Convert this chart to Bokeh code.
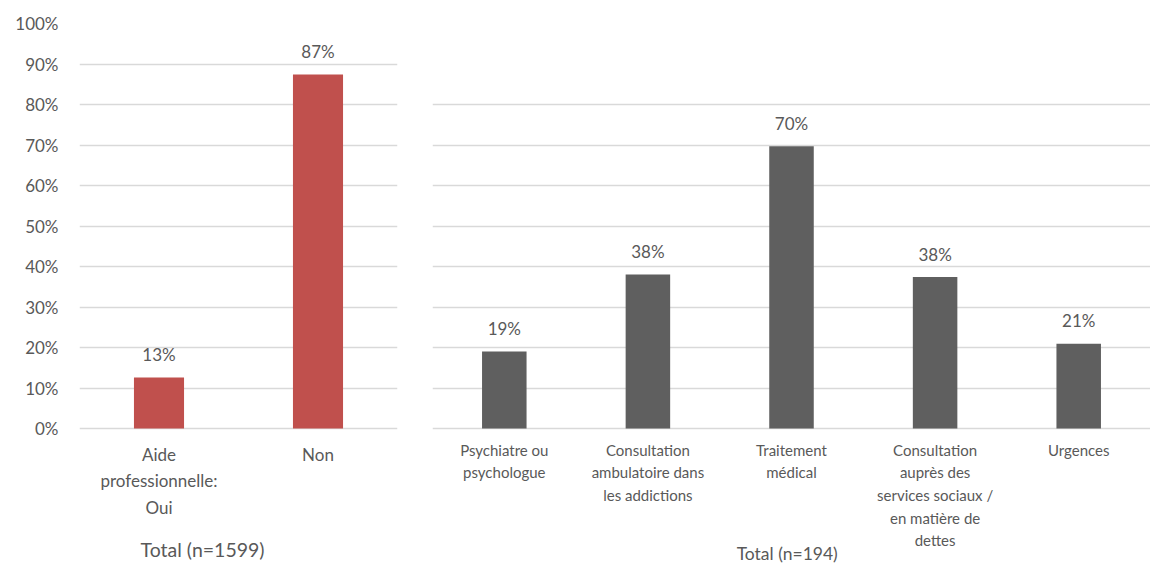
from bokeh.plotting import figure
from bokeh.models import ColumnDataSource, LabelSet, Label, Range1d, FixedTicker, PrintfTickFormatter
from bokeh.layouts import row
from bokeh.embed import file_html
from bokeh.resources import INLINE
from bokeh.core.properties import value

# ---- data ----
left_categories = ["Aide\nprofessionnelle:\nOui", "Non"]
left_values = [12.6, 87.4]
left_labels = ["13%", "87%"]
left_total = "Total (n=1599)"

right_categories = [
    "Psychiatre ou\npsychologue",
    "Consultation\nambulatoire dans\nles addictions",
    "Traitement\nmédical",
    "Consultation\nauprès des\nservices sociaux /\nen matière de\ndettes",
    "Urgences",
]
right_values = [19.0, 38.0, 69.7, 37.4, 20.9]
right_labels = ["19%", "38%", "70%", "38%", "21%"]
right_total = "Total (n=194)"

left_ticks = [0, 10, 20, 30, 40, 50, 60, 70, 80, 90, 100]
right_ticks = [0, 10, 20, 30, 40, 50, 60, 70, 80]

FONT = "Lato"
TXT = "#595959"
GRID = "#d9d9d9"
RED = "#C0504D"
GRAY = "#5F5F5F"
Y_BOTTOM = -33.33  # room below the 0 line for category labels and totals


def style(p, ticks):
    p.outline_line_color = None
    p.xgrid.grid_line_color = None
    p.ygrid.grid_line_color = GRID
    p.ygrid.grid_line_width = 1.5
    p.ygrid.ticker = FixedTicker(ticks=ticks)
    for ax in p.axis:
        ax.axis_line_color = None
        ax.major_tick_line_color = None
        ax.minor_tick_line_color = None
        ax.major_tick_out = 0
        ax.major_tick_in = 0
        ax.major_label_text_color = TXT
        ax.major_label_text_font = FONT
    p.xaxis.fixed_location = 0
    p.background_fill_color = "white"
    p.border_fill_color = "white"


# ---- left panel ----
src_l = ColumnDataSource(dict(cat=left_categories, val=left_values, lab=left_labels))
pl = figure(x_range=left_categories, y_range=Range1d(Y_BOTTOM, 100), width=418, height=563,
            output_backend="svg", toolbar_location=None,
            min_border_left=79, min_border_right=21, min_border_top=23, min_border_bottom=0)
pl.vbar(x="cat", top="val", width=0.315, source=src_l, fill_color=RED, line_color=None)
style(pl, left_ticks)
pl.yaxis.ticker = FixedTicker(ticks=left_ticks)
pl.yaxis.formatter = PrintfTickFormatter(format="%d%%")
pl.yaxis.major_label_text_font_size = "17px"
pl.yaxis.major_label_standoff = 21
pl.xaxis.major_label_text_font_size = "17px"
pl.xaxis.major_label_text_line_height = 1.27
pl.xaxis.major_label_standoff = 15
pl.add_layout(LabelSet(x="cat", y="val", text="lab", source=src_l, y_offset=23,
                       text_align="center", text_baseline="middle",
                       text_font=value(FONT), text_font_size="17px", text_color=TXT))
pl.add_layout(Label(x=0.774, y=-29.9, text=left_total,
                    text_align="center", text_baseline="middle",
                    text_font=FONT, text_font_size="19.5px", text_color=TXT))

# ---- right panel ----
src_r = ColumnDataSource(dict(cat=right_categories, val=right_values, lab=right_labels))
pr = figure(x_range=right_categories, y_range=Range1d(Y_BOTTOM, 100), width=732, height=563,
            output_backend="svg", toolbar_location=None,
            min_border_left=14, min_border_right=0, min_border_top=23, min_border_bottom=0)
pr.vbar(x="cat", top="val", width=0.31, source=src_r, fill_color=GRAY, line_color=None)
style(pr, right_ticks)
pr.yaxis.visible = False
pr.xaxis.major_label_text_font_size = "15px"
pr.xaxis.major_label_text_line_height = 1.26
pr.xaxis.major_label_standoff = 12
pr.add_layout(LabelSet(x="cat", y="val", text="lab", source=src_r, y_offset=23,
                       text_align="center", text_baseline="middle",
                       text_font=value(FONT), text_font_size="17px", text_color=TXT))
pr.add_layout(Label(x=2.47, y=-30.9, text=right_total,
                    text_align="center", text_baseline="middle",
                    text_font=FONT, text_font_size="17.5px", text_color=TXT))

layout = row(pl, pr)
open("out.html", "w").write(file_html(layout, INLINE))
